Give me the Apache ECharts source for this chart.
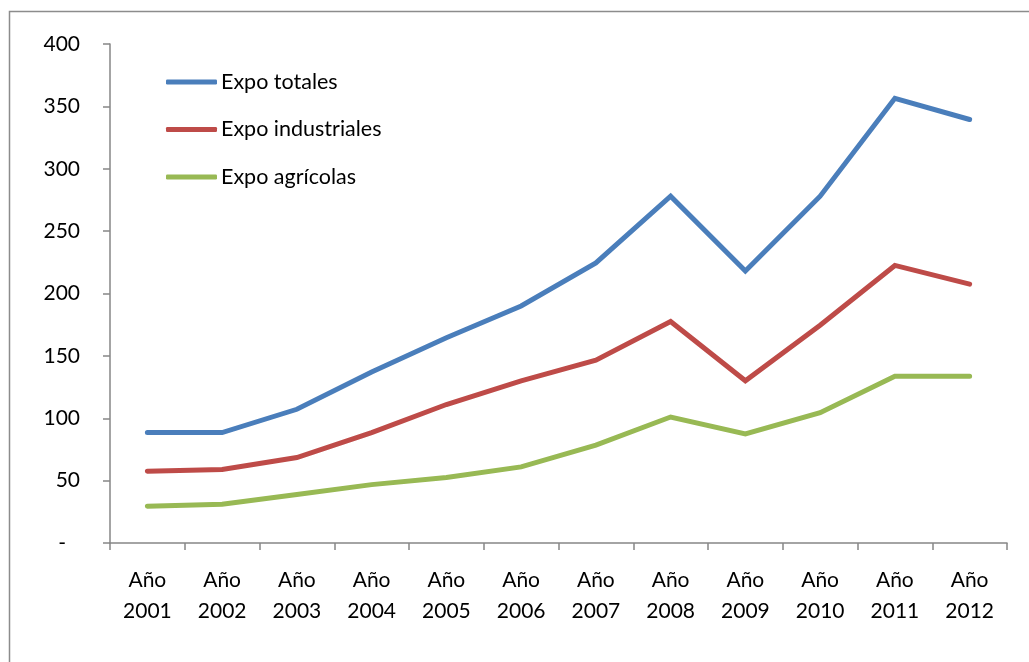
<!DOCTYPE html>
<html>
<head>
<meta charset="utf-8">
<title>Exportaciones 2001-2012</title>
<script src="https://cdn.jsdelivr.net/npm/echarts@6/dist/echarts.min.js"></script>
<style>
  html, body { margin: 0; padding: 0; background: #ffffff; }
  #chart { width: 1029px; height: 662px; }
</style>
</head>
<body>
<div id="chart"></div>
<script>
// Categories (years)
const categories = ['Año\n2001', 'Año\n2002', 'Año\n2003', 'Año\n2004', 'Año\n2005', 'Año\n2006',
                    'Año\n2007', 'Año\n2008', 'Año\n2009', 'Año\n2010', 'Año\n2011', 'Año\n2012'];

// Series values
const expoTotales      = [88.5, 88.5, 107.2, 137, 164.5, 190, 224.5, 278, 218, 278, 356.5, 339.5];
const expoIndustriales = [57.5, 59, 68.5, 88.5, 111, 130, 146.5, 177.5, 130, 174.5, 222.5, 207.5];
const expoAgricolas    = [29.5, 31, 38.8, 46.8, 52.5, 61, 78.5, 101, 87.5, 104.5, 133.7, 133.7];

// Series names and y-axis range
const seriesNames = ['Expo totales', 'Expo industriales', 'Expo agrícolas'];
const yMin = 0, yMax = 400, yStep = 50;

const colors = ['#4a7ebb', '#be4b48', '#98b954'];
const font = 'Lato, "Open Sans", sans-serif';

const chart = echarts.init(document.getElementById('chart'), null, { renderer: 'canvas' });

function lineSeries(name, data, color) {
  return {
    name: name,
    type: 'line',
    data: data,
    symbol: 'none',
    showSymbol: false,
    silent: true,
    color: color,
    itemStyle: { color: color },
    lineStyle: { color: color, width: 5, cap: 'round', join: 'miter' }
  };
}

chart.setOption({
  animation: false,
  backgroundColor: '#ffffff',
  textStyle: { fontFamily: font },
  graphic: [{
    type: 'rect',
    shape: { x: 9.5, y: 11.5, width: 1100, height: 700 },
    style: { fill: 'none', stroke: '#8c8c8c', lineWidth: 1.5 },
    silent: true,
    z: -10
  }],
  grid: { left: 110, right: 22, top: 44, bottom: 119, containLabel: false },
  legend: {
    show: true,
    orient: 'vertical',
    left: 161,
    top: 65,
    padding: 5,
    icon: 'roundRect',
    itemWidth: 51,
    itemHeight: 5,
    itemGap: 23.5,
    data: seriesNames,
    textStyle: { fontFamily: font, fontSize: 21.5, color: '#000', lineHeight: 24, padding: [0, 0, 0, -1] },
    selectedMode: false
  },
  xAxis: {
    type: 'category',
    data: categories,
    boundaryGap: true,
    axisLine: { lineStyle: { color: '#868686', width: 1.5 } },
    axisTick: { show: true, inside: false, length: 7, alignWithLabel: false, lineStyle: { color: '#868686', width: 1.5 } },
    axisLabel: { color: '#000', fontFamily: font, fontSize: 21, lineHeight: 31, margin: 22, interval: 0 },
    splitLine: { show: false }
  },
  yAxis: {
    type: 'value',
    min: yMin,
    max: yMax,
    interval: yStep,
    axisLine: { show: true, lineStyle: { color: '#868686', width: 1.5 } },
    axisTick: { show: true, inside: false, length: 7, lineStyle: { color: '#868686', width: 1.5 } },
    axisLabel: {
      color: '#000', fontFamily: font, fontSize: 21, margin: 30,
      formatter: v => v === 0 ? '{d|-}' : String(v),
      rich: { d: { fontFamily: font, fontSize: 21, color: '#000', padding: [0, 14, 0, 0] } }
    },
    splitLine: { show: false }
  },
  series: [
    lineSeries(seriesNames[0], expoTotales, colors[0]),
    lineSeries(seriesNames[1], expoIndustriales, colors[1]),
    lineSeries(seriesNames[2], expoAgricolas, colors[2])
  ]
});
</script>
</body>
</html>
